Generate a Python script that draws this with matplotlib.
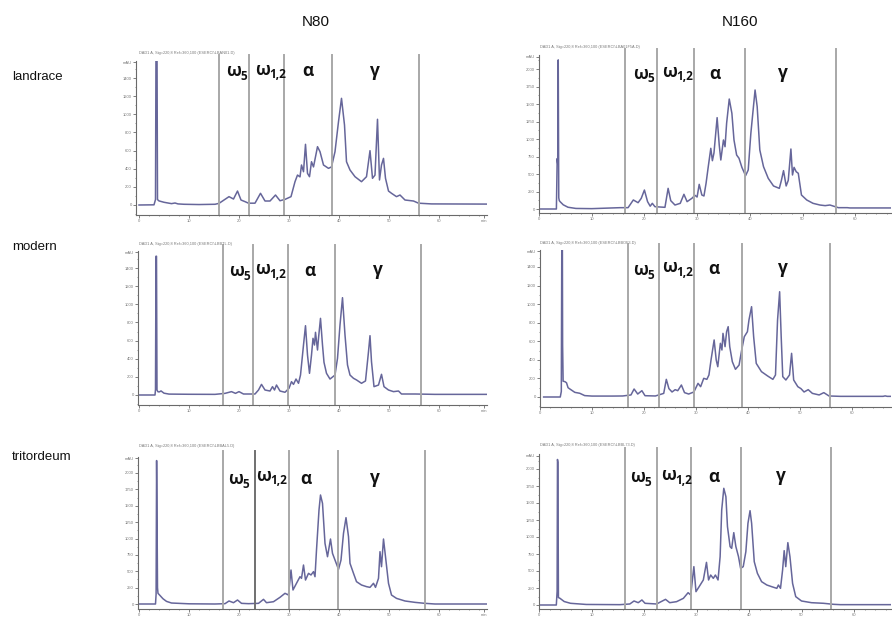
import matplotlib
matplotlib.use("Agg")
import matplotlib.pyplot as plt
from matplotlib.ticker import MultipleLocator

plt.rcParams['font.family'] = ['Liberation Sans', 'DejaVu Sans']

COLUMNS = ["N80", "N160"]
ROWS = ["landrace", "modern", "tritordeum"]
FRACTIONS = [("ω", "5"), ("ω", "1,2"), ("α", ""), ("γ", "")]

LAND_N80_T = [0, 3.0, 3.3, 3.4, 3.6, 3.7, 4.0, 5.0, 6.5, 7.2, 7.8, 9.0, 12.0, 15.2, 16.0, 18.0, 18.9, 19.7,
              20.4, 21.2, 21.9, 23.2, 24.3, 25.2, 26.2, 27.3, 28.2, 29.2, 30.4, 31.2, 31.7, 32.2, 32.5, 32.9,
              33.3, 33.7, 34.1, 34.5, 34.9, 35.7, 36.2, 36.9, 37.9, 38.5, 39.2, 39.9, 40.5, 41.1, 41.5, 42.2,
              43.2, 44.5, 45.5, 46.2, 46.7, 47.2, 47.7, 48.1, 48.5, 48.9, 49.3, 49.9, 50.5, 51.5, 52.2, 53.2,
              54.9, 55.9, 58.5, 70.0]
LAND_N80_MAU = [0, 2, 60, 1750, 1750, 60, 45, 30, 15, 22, 12, 8, 5, 8, 18, 92, 66, 154,
                55, 37, 20, 20, 129, 44, 44, 110, 47, 62, 92, 257, 330, 310, 441, 367,
                669, 349, 312, 477, 420, 643, 588, 441, 404, 420, 588, 919, 1176, 882, 477, 386,
                312, 257, 312, 599, 294, 330, 945, 276, 441, 514, 294, 154, 129, 92, 110, 55,
                44, 20, 12, 10]

LAND_N160_T = [0, 3.3, 3.45, 3.55, 3.65, 3.75, 3.85, 4.0, 4.6, 5.5, 7.0, 10.0, 15.4, 16.9, 17.9, 18.8,
               19.4, 20.0, 20.6, 21.1, 21.5, 22.0, 23.9, 24.5, 25.0, 25.8, 26.8, 27.5, 28.1, 29.0, 29.6,
               30.0, 30.4, 30.9, 31.3, 31.7, 32.1, 32.6, 32.9, 33.2, 33.8, 34.2, 34.5, 35.0, 35.3, 35.6,
               36.1, 36.6, 37.0, 37.5, 37.95, 38.5, 39.2, 39.7, 40.2, 41.0, 41.4, 41.9, 42.6, 43.5, 44.5,
               45.6, 46.0, 46.4, 46.9, 47.3, 47.8, 48.1, 48.4, 48.8, 49.2, 49.8, 50.8, 52.0, 53.3, 54.3,
               55.2, 56.8, 58.5, 59.0, 68.0]
LAND_N160_MAU = [0, 0, 720, 650, 2130, 160, 120, 105, 60, 25, 8, 5, 19, 19, 129, 90,
                 152, 271, 105, 40, 81, 33, 24, 295, 119, 57, 81, 210, 105, 152, 195,
                 171, 352, 200, 186, 367, 595, 867, 690, 800, 1305, 914, 700, 986, 890, 1224,
                 1571, 1367, 986, 771, 725, 595, 476, 557, 1081, 1700, 1462, 843, 605, 438, 329,
                 295, 410, 548, 329, 410, 857, 486, 595, 533, 510, 200, 129, 81, 57, 48,
                 57, 19, 19, 15, 15]

MOD_N80_T = [0, 3.2, 3.3, 3.4, 3.5, 3.6, 3.8, 4.1, 4.4, 5.0, 6.0, 10.0, 15.2, 17.2, 18.5, 19.3, 20.0,
             20.9, 23.2, 23.9, 24.5, 25.2, 26.2, 26.7, 27.1, 27.5, 28.2, 29.2, 30.0, 30.5, 30.9, 31.4,
             31.9, 32.3, 32.9, 33.3, 33.7, 34.1, 34.5, 34.8, 35.1, 35.3, 35.7, 35.9, 36.3, 36.7, 37.0,
             37.5, 38.2, 39.2, 39.7, 40.2, 40.7, 41.2, 41.7, 42.2, 42.9, 43.5, 44.5, 45.3, 45.9, 46.2,
             46.5, 47.0, 47.9, 48.5, 49.0, 49.9, 50.9, 51.9, 52.5, 55.2, 59.2, 70.0]
MOD_N80_MAU = [0, 0, 60, 1530, 1530, 55, 35, 35, 45, 20, 10, 8, 7, 18, 37, 18, 37,
               11, 11, 55, 117, 55, 44, 92, 55, 110, 44, 30, 74, 147, 117, 176,
               129, 220, 551, 764, 441, 239, 441, 625, 551, 691, 496, 625, 845, 551, 360,
               239, 176, 220, 404, 772, 1073, 661, 331, 220, 184, 166, 129, 155, 478, 654,
               367, 92, 110, 228, 92, 55, 37, 44, 11, 11, 7, 7]

MOD_N160_T = [0.7, 3.9, 4.1, 4.2, 4.3, 4.35, 4.45, 4.8, 5.1, 5.4, 5.75, 6.7, 7.65, 8.6, 10.0, 14.0,
              15.9, 17.5, 18.1, 18.8, 19.6, 20.2, 22.2, 23.8, 24.3, 24.8, 25.4, 26.0, 26.5, 27.2, 27.8,
              28.6, 29.6, 30.4, 30.9, 31.5, 32.1, 32.5, 32.9, 33.5, 33.9, 34.2, 34.7, 35.0, 35.2, 35.6,
              35.9, 36.2, 36.5, 37.0, 37.6, 38.3, 38.8, 39.3, 39.9, 40.2, 40.7, 41.1, 41.6, 42.6, 43.8,
              44.8, 45.3, 45.7, 46.1, 46.4, 46.7, 47.3, 48.0, 48.4, 48.8, 49.6, 50.2, 50.8, 51.6, 52.4,
              53.7, 54.6, 55.6, 57.8, 66.0, 66.4, 66.8, 70.0]
MOD_N160_MAU = [0, 0, 60, 1750, 1750, 560, 170, 165, 153, 100, 86, 50, 40, 15, 10, 10,
                11, 22, 86, 32, 68, 14, 11, 39, 190, 90, 54, 79, 68, 129, 47,
                32, 54, 147, 111, 201, 190, 237, 398, 614, 398, 326, 578, 506, 685, 542,
                703, 757, 542, 380, 298, 344, 506, 649, 703, 829, 972, 649, 362, 273, 226,
                190, 237, 829, 1133, 649, 219, 183, 237, 470, 183, 111, 90, 54, 79, 39,
                22, 47, 11, 7, 7, 12, 7, 7]

TRI_N80_T = [0, 3.3, 3.42, 3.52, 3.62, 3.7, 3.8, 4.2, 4.8, 5.5, 6.5, 10.0, 15.2, 17.2, 18.0, 18.9, 19.7,
             20.5, 21.9, 23.9, 24.9, 25.5, 26.9, 28.2, 29.2, 29.9, 30.4, 30.8, 31.5, 32.2, 32.5, 32.9,
             33.3, 33.9, 34.4, 34.9, 35.2, 35.5, 36.0, 36.3, 36.7, 37.2, 37.7, 38.3, 38.7, 39.2, 39.9,
             40.4, 40.9, 41.4, 41.9, 42.2, 42.9, 43.5, 44.5, 45.5, 46.2, 46.9, 47.3, 47.9, 48.2, 48.5,
             48.9, 49.3, 49.9, 50.5, 51.5, 53.2, 55.2, 57.2, 59.2, 70.0]
TRI_N80_MAU = [0, 0, 150, 2190, 1230, 250, 163, 130, 80, 40, 15, 3, 0, 5, 46, 20, 61,
               10, 5, 10, 71, 20, 35, 102, 163, 137, 519, 214, 316, 417, 392, 595,
               366, 468, 443, 494, 417, 824, 1435, 1664, 1537, 926, 722, 992, 773, 671, 529,
               671, 1079, 1318, 1028, 621, 468, 341, 290, 265, 254, 316, 254, 392, 799, 570,
               992, 722, 316, 137, 86, 46, 25, 10, 0, 0]

TRI_N160_T = [0, 3.3, 3.45, 3.52, 3.6, 3.7, 4.0, 4.8, 6.0, 9.0, 15.4, 17.3, 18.1, 18.9, 19.6, 20.2,
              22.4, 24.1, 24.9, 26.2, 27.5, 28.4, 28.9, 29.5, 29.9, 30.7, 31.3, 31.9, 32.3, 32.7, 33.2,
              33.6, 34.1, 34.5, 34.8, 35.2, 35.6, 35.9, 36.4, 36.7, 37.1, 37.5, 38.0, 38.4, 38.9, 39.4,
              39.8, 40.2, 40.5, 41.0, 41.6, 42.4, 43.4, 44.3, 45.3, 45.6, 46.0, 46.4, 46.7, 47.0, 47.4,
              47.8, 48.3, 48.9, 50.0, 51.9, 54.2, 56.1, 57.4, 70.0]
TRI_N160_MAU = [0, 0, 200, 2140, 2100, 110, 98, 51, 25, 8, 5, 15, 59, 34, 74, 25,
                15, 83, 34, 49, 98, 181, 147, 564, 196, 294, 368, 627, 368, 441, 392,
                441, 368, 711, 1397, 1716, 1593, 1152, 858, 833, 1064, 858, 711, 539, 564, 784,
                1201, 1387, 1201, 637, 466, 343, 294, 270, 245, 294, 245, 515, 799, 564, 917,
                711, 319, 123, 59, 34, 25, 10, 5, 5]

# limites de fracciones (min)
LAND_N80_BOUNDS = [16.0, 21.9, 28.9, 38.5, 56.0]
LAND_N160_BOUNDS = [16.4, 22.4, 29.4, 39.0, 56.3]
MOD_N80_BOUNDS = [16.9, 22.9, 29.8, 39.3, 56.4]
MOD_N160_BOUNDS = [17.0, 22.9, 29.6, 38.9, 55.8]
TRI_N80_BOUNDS = [16.7, 23.2, 29.9, 39.8, 57.3]
TRI_N160_BOUNDS = [16.4, 22.5, 29.0, 38.4, 55.6]

HEADERS = ["DAD1 A, Sig=220,8 Ref=360,100 (ESERCI\\LBAN01.D)",
           "DAD1 A, Sig=220,8 Ref=360,100 (ESERCI\\LBA01F5A.D)",
           "DAD1 A, Sig=220,8 Ref=360,100 (ESERCI\\LBBTL.D)",
           "DAD1 A, Sig=220,8 Ref=360,100 (ESERCI\\LBBOF3.D)",
           "DAD1 A, Sig=220,8 Ref=360,100 (ESERCI\\LBBAL5.D)",
           "DAD1 A, Sig=220,8 Ref=360,100 (ESERCI\\LBBL73.D)"]

# --- LAYOUT (pixeles de la figura) ---
W, H = 892, 618
LINE_C = '#66669a'
BOUND_C = '#a8a8a8'
AXIS_C = '#6a6a6a'

# box (izq, arriba, der, abajo), x de t=0, px/min, y de 0 mAU, px/mAU, paso y, max y
PANELS = [
    dict(t=LAND_N80_T, v=LAND_N80_MAU, b=LAND_N80_BOUNDS, box=(136, 61, 487, 215), x0=139, ppm=5.0,
         y0=205, ppu=0.0907, ystep=200, ymax=1400, hdr=(139, 53),
         lab=[(226, 76.5), (255, 75), (302, 76.5), (369, 76)]),
    dict(t=LAND_N160_T, v=LAND_N160_MAU, b=LAND_N160_BOUNDS, box=(539, 55, 891, 213), x0=539, ppm=5.27,
         y0=209, ppu=0.0700, ystep=250, ymax=2000, hdr=(540, 47),
         lab=[(633, 79), (662, 77), (709, 79), (777, 78)]),
    dict(t=MOD_N80_T, v=MOD_N80_MAU, b=MOD_N80_BOUNDS, box=(138, 251, 487, 405), x0=139, ppm=5.0,
         y0=395, ppu=0.0907, ystep=200, ymax=1400, hdr=(139, 244),
         lab=[(229, 276.5), (255, 274.5), (304, 276), (372, 275)]),
    dict(t=MOD_N160_T, v=MOD_N160_MAU, b=MOD_N160_BOUNDS, box=(540, 250, 891, 407), x0=536.5, ppm=5.25,
         y0=397, ppu=0.0929, ystep=200, ymax=1400, hdr=(540, 243),
         lab=[(633, 275), (662, 272), (708, 274), (777, 273)]),
    dict(t=TRI_N80_T, v=TRI_N80_MAU, b=TRI_N80_BOUNDS, box=(138, 457, 487, 609), x0=139, ppm=5.0,
         y0=604, ppu=0.0655, ystep=250, ymax=2000, hdr=(139, 446),
         lab=[(228, 484), (256, 481), (300, 484), (369, 483)]),
    dict(t=TRI_N160_T, v=TRI_N160_MAU, b=TRI_N160_BOUNDS, box=(539, 454, 891, 609), x0=539, ppm=5.25,
         y0=605, ppu=0.068, ystep=250, ymax=2000, hdr=(540, 445),
         lab=[(630, 482), (661, 480), (708, 482), (775, 481)]),
]


def fx(x):
    return x / W


def fy(y):
    return 1 - y / H


def draw_panel(fig, p, header, dark_line=None):
    left, top, right, bottom = p['box']
    ax = fig.add_axes([fx(left), fy(bottom), (right - left) / W, (bottom - top) / H])
    xlo = (left - p['x0']) / p['ppm']
    xhi = (right - p['x0']) / p['ppm']
    ylo = (p['y0'] - bottom) / p['ppu']
    yhi = (p['y0'] - top) / p['ppu']
    ax.set_xlim(xlo, xhi)
    ax.set_ylim(ylo, yhi)

    ax.plot(p['t'], p['v'], color=LINE_C, lw=1.1, solid_joinstyle='round')
    for i, b in enumerate(p['b']):
        c = '#707070' if i == dark_line else BOUND_C
        ax.axvline(b, color=c, lw=1.4, ymax=1.04, clip_on=False)

    for s in ['top', 'right']:
        ax.spines[s].set_visible(False)
    for s in ['left', 'bottom']:
        ax.spines[s].set_color(AXIS_C)
        ax.spines[s].set_linewidth(0.8)

    yt = list(range(0, p['ymax'] + 1, p['ystep']))
    ax.set_yticks(yt + [yhi * 0.99])
    ax.set_yticklabels([str(v) for v in yt] + ['mAU'])
    xt = [0, 10, 20, 30, 40, 50, 60]
    if xhi > 69.3:
        xt_all = xt + [69]
        xl_all = [str(v) for v in xt] + ['min']
    else:
        xt_all = xt
        xl_all = [str(v) for v in xt]
    ax.set_xticks(xt_all)
    ax.set_xticklabels(xl_all)
    ax.xaxis.set_minor_locator(MultipleLocator(2))
    ax.yaxis.set_minor_locator(MultipleLocator(p['ystep'] / 2))
    ax.tick_params(which='major', length=2.0, width=0.6, color=AXIS_C, labelsize=3.0,
                   labelcolor='#777777', pad=1.0)
    ax.tick_params(which='minor', length=1.0, width=0.5, color=AXIS_C)

    fig.text(fx(p['hdr'][0]), fy(p['hdr'][1]), header, fontsize=2.8, color='#777777',
             ha='left', va='center')

    for (sym, sub), (lx, ly) in zip(FRACTIONS, p['lab']):
        fig.text(fx(lx), fy(ly), sym, fontsize=12.5, fontweight='bold', color='#111111',
                 family=['Open Sans', 'DejaVu Sans'], ha='left', va='baseline')
        if sub:
            fig.text(fx(lx + 14), fy(ly + 3.5), sub, fontsize=8.5, fontweight='bold',
                     color='#111111', family=['Open Sans', 'DejaVu Sans'],
                     ha='left', va='baseline')
    return ax


def main():
    fig = plt.figure(figsize=(W / 100, H / 100), dpi=100)
    fig.patch.set_facecolor('white')

    for i, p in enumerate(PANELS):
        draw_panel(fig, p, HEADERS[i], dark_line=1 if i == 4 else None)

    # titulos de columnas y filas
    fig.text(fx(316), fy(22), COLUMNS[0], fontsize=11, ha='center', va='center', color='#111111')
    fig.text(fx(740), fy(22), COLUMNS[1], fontsize=11, ha='center', va='center', color='#111111')
    for name, y in zip(ROWS, [77, 247, 457]):
        fig.text(fx(12), fy(y), name, fontsize=9.5, ha='left', va='center', color='#111111')

    fig.savefig('out.png', dpi=100, facecolor='white')
    plt.close(fig)


if __name__ == "__main__":
    main()
